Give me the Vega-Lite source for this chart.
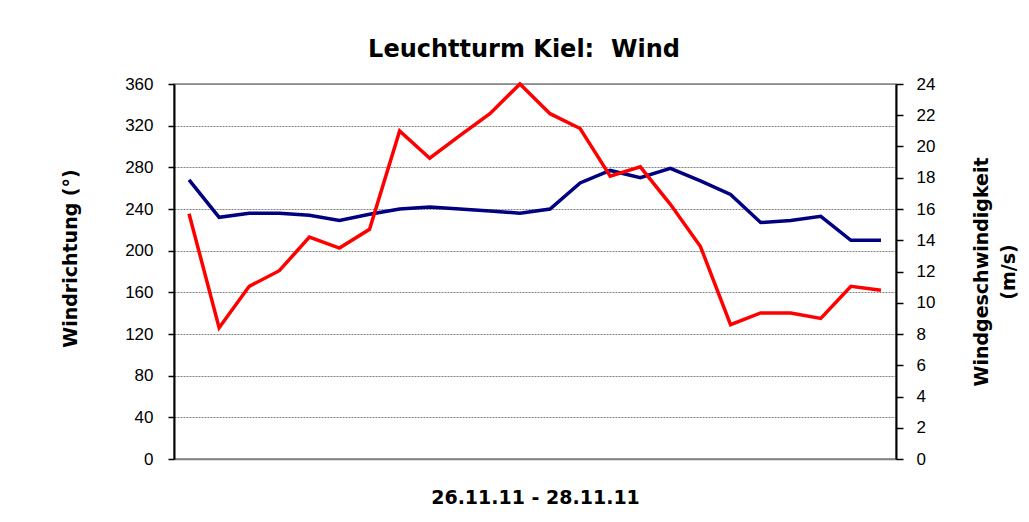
{
  "$schema": "https://vega.github.io/schema/vega-lite/v6.json",
  "autosize": {"type": "none"},
  "padding": {"left": 174, "top": 84, "right": 133, "bottom": 63},
  "width": 722,
  "height": 375,
  "background": "white",
  "title": {
    "text": "Leuchtturm Kiel: \u00a0Wind",
    "font": "DejaVu Sans",
    "fontSize": 24,
    "fontWeight": "bold",
    "color": "black",
    "offset": 13,
    "dx": -11
  },
  "data": {
    "values": [
      {"t": 1, "dir": 268, "speed": 15.7},
      {"t": 2, "dir": 232, "speed": 8.4},
      {"t": 3, "dir": 236, "speed": 11.05},
      {"t": 4, "dir": 236, "speed": 12.05},
      {"t": 5, "dir": 234, "speed": 14.2},
      {"t": 6, "dir": 229, "speed": 13.5},
      {"t": 7, "dir": 235, "speed": 14.7},
      {"t": 8, "dir": 240, "speed": 21.0},
      {"t": 9, "dir": 242, "speed": 19.25},
      {"t": 10, "dir": 240, "speed": 20.7},
      {"t": 11, "dir": 238, "speed": 22.1},
      {"t": 12, "dir": 236, "speed": 24.0},
      {"t": 13, "dir": 240, "speed": 22.1},
      {"t": 14, "dir": 265, "speed": 21.15},
      {"t": 15, "dir": 277, "speed": 18.1},
      {"t": 16, "dir": 270, "speed": 18.7},
      {"t": 17, "dir": 279, "speed": 16.3},
      {"t": 18, "dir": 267, "speed": 13.6},
      {"t": 19, "dir": 254, "speed": 8.6},
      {"t": 20, "dir": 227, "speed": 9.35},
      {"t": 21, "dir": 229, "speed": 9.35},
      {"t": 22, "dir": 233, "speed": 9.0},
      {"t": 23, "dir": 210, "speed": 11.05},
      {"t": 24, "dir": 210, "speed": 10.8}
    ]
  },
  "encoding": {
    "x": {
      "field": "t",
      "type": "ordinal",
      "scale": {"type": "point", "padding": 0.5},
      "axis": {
        "labels": false,
        "ticks": false,
        "grid": false,
        "domainColor": "#808080",
        "domainWidth": 1.5,
        "title": "26.11.11 - 28.11.11",
        "titleFont": "DejaVu Sans",
        "titleFontSize": 19,
        "titleFontWeight": "bold",
        "titleColor": "black",
        "titlePadding": 29
      }
    }
  },
  "layer": [
    {
      "mark": {"type": "line", "color": "#000080", "strokeWidth": 3.5},
      "encoding": {
        "y": {
          "field": "dir",
          "type": "quantitative",
          "scale": {"domain": [0, 360], "nice": false, "zero": true},
          "axis": {
            "orient": "left",
            "values": [0, 40, 80, 120, 160, 200, 240, 280, 320, 360],
            "grid": true,
            "gridColor": "#808080",
            "gridDash": [2, 1],
            "gridWidth": 1,
            "domainColor": "black",
            "domainWidth": 2,
            "tickColor": "black",
            "tickSize": 6,
            "tickWidth": 1.5,
            "labelFont": "Liberation Sans",
            "labelFontSize": 17,
            "labelColor": "black",
            "labelPadding": 15,
            "title": "Windrichtung (°)",
            "titleFont": "DejaVu Sans",
            "titleFontSize": 19,
            "titleFontWeight": "bold",
            "titleColor": "black",
            "titlePadding": 44,
            "titleY": 174
          }
        }
      }
    },
    {
      "mark": {"type": "line", "color": "#FF0000", "strokeWidth": 3.5},
      "encoding": {
        "y": {
          "field": "speed",
          "type": "quantitative",
          "scale": {"domain": [0, 24], "nice": false},
          "axis": {
            "orient": "right",
            "values": [0, 2, 4, 6, 8, 10, 12, 14, 16, 18, 20, 22, 24],
            "grid": false,
            "domainColor": "black",
            "domainWidth": 2,
            "tickColor": "black",
            "tickSize": 7,
            "tickWidth": 1.5,
            "labelFont": "Liberation Sans",
            "labelFontSize": 17,
            "labelColor": "black",
            "labelPadding": 13,
            "title": ["Windgeschwindigkeit", "(m/s)"],
            "titleAngle": 270,
            "titleFont": "DejaVu Sans",
            "titleFontSize": 19,
            "titleFontWeight": "bold",
            "titleColor": "black",
            "titleLineHeight": 27,
            "titlePadding": 30
          }
        }
      }
    }
  ],
  "resolve": {"scale": {"y": "independent"}},
  "config": {
    "view": {"stroke": "#808080", "strokeWidth": 1.5}
  }
}
